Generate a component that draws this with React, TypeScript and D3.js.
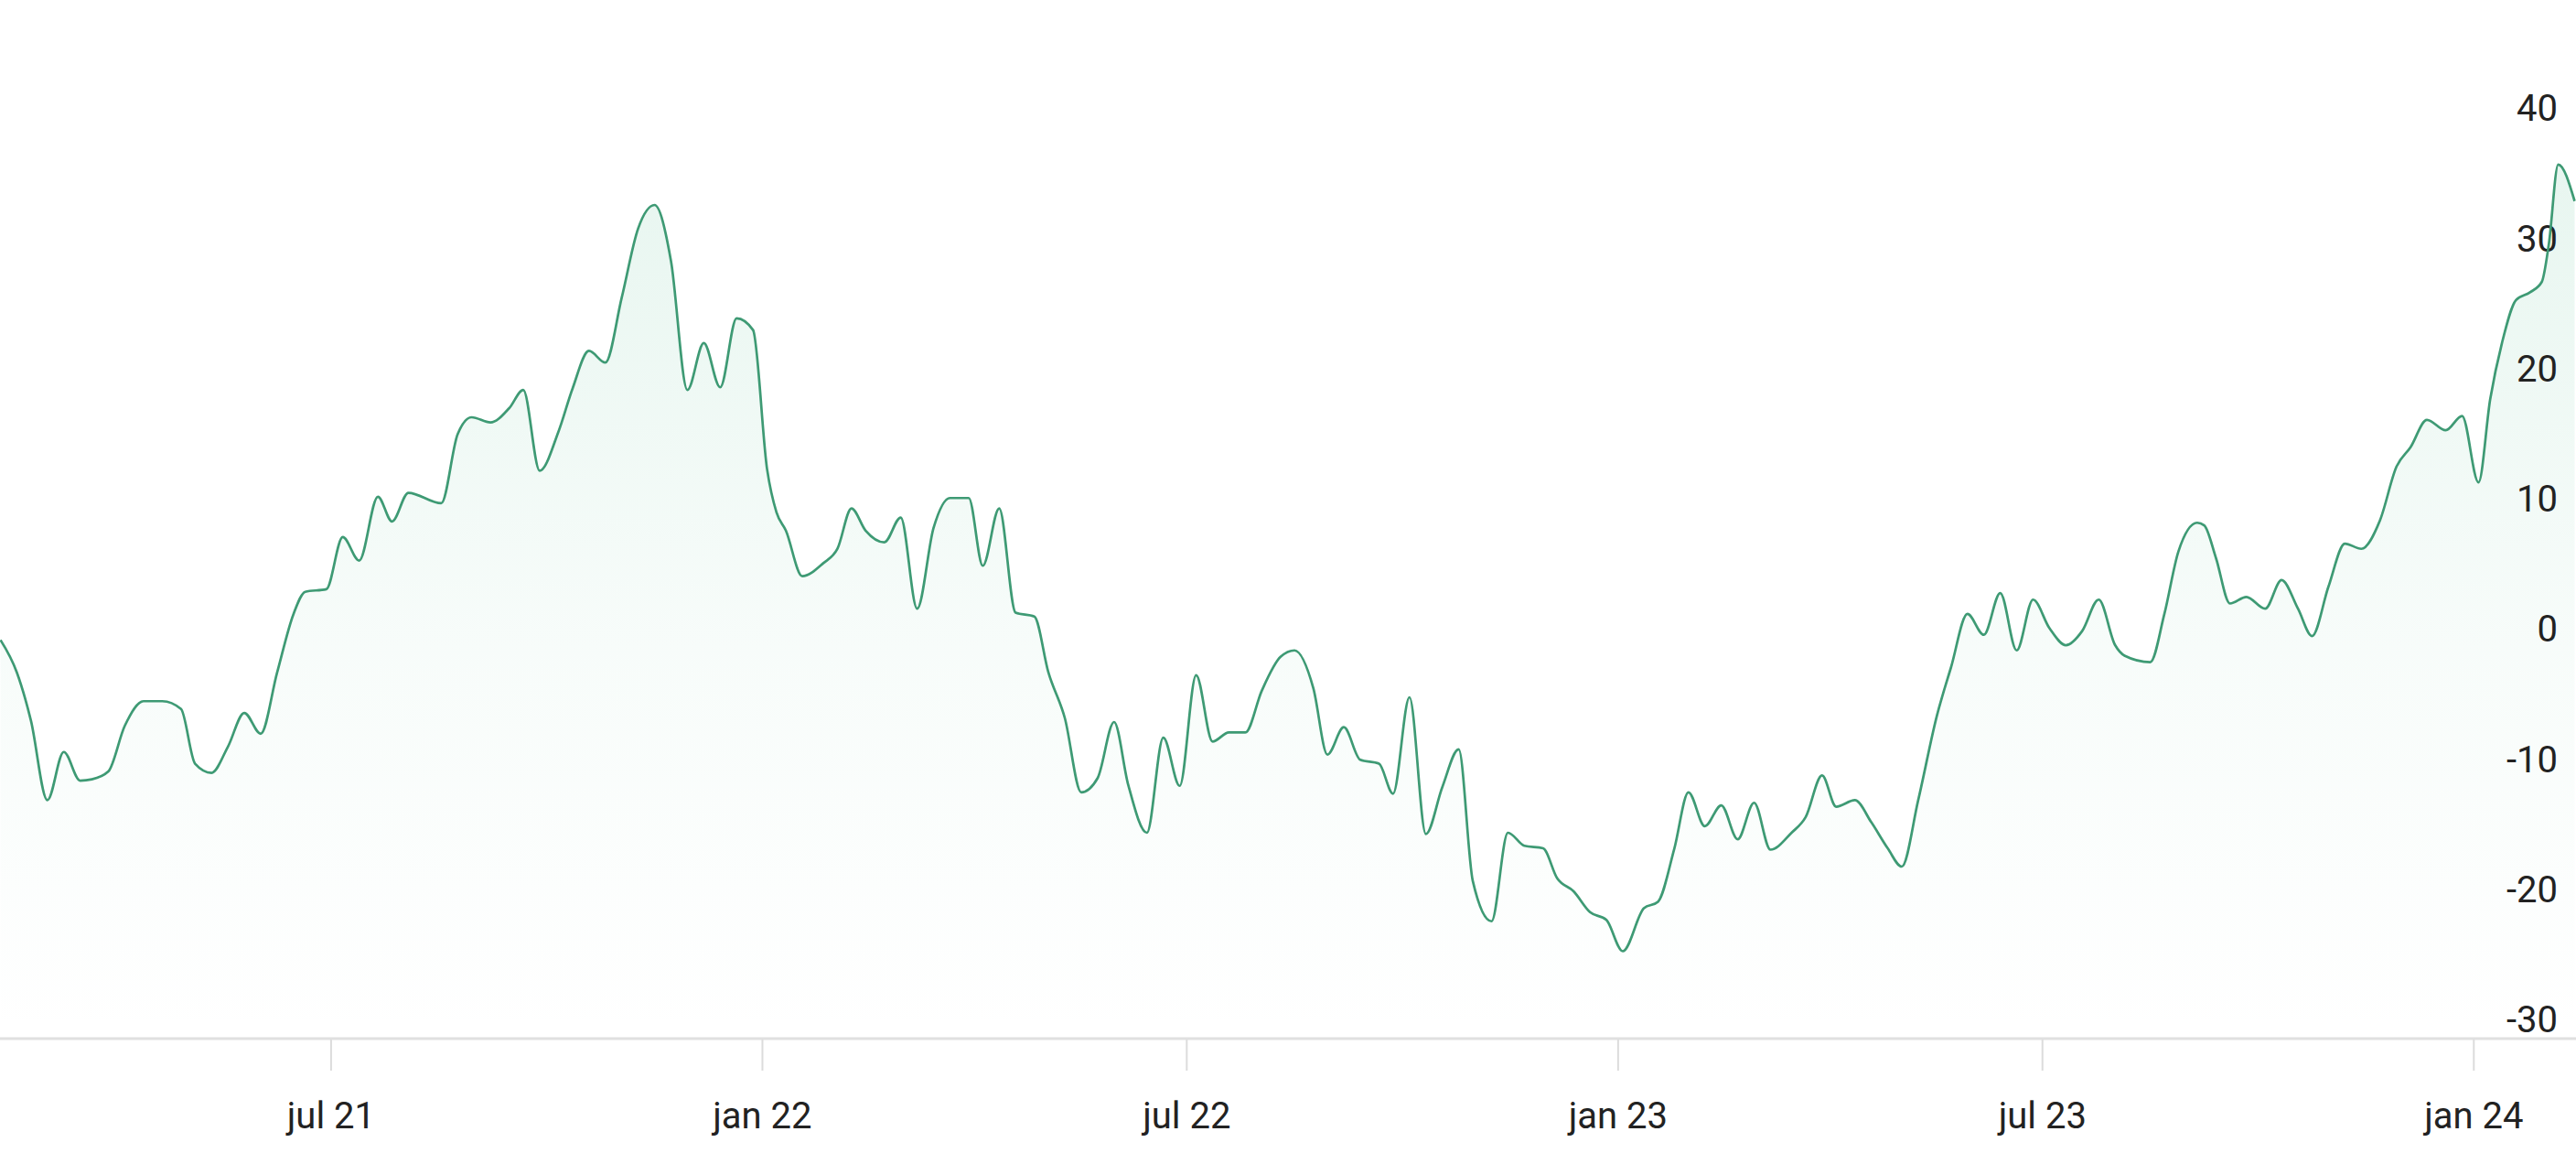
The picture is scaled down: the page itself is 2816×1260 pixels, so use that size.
import React from "react";
import * as d3 from "d3";

const dates = ["2021-02-10","2021-02-17","2021-02-23","2021-03-02","2021-03-09","2021-03-16","2021-03-21","2021-03-28","2021-04-04","2021-04-12","2021-04-20","2021-04-28","2021-05-04","2021-05-11","2021-05-18","2021-05-25","2021-06-01","2021-06-08","2021-06-15","2021-06-20","2021-06-29","2021-07-06","2021-07-13","2021-07-21","2021-07-27","2021-08-03","2021-08-17","2021-08-24","2021-08-30","2021-09-07","2021-09-15","2021-09-21","2021-09-28","2021-10-06","2021-10-12","2021-10-19","2021-10-26","2021-11-02","2021-11-09","2021-11-16","2021-11-23","2021-11-30","2021-12-07","2021-12-14","2021-12-21","2021-12-28","2022-01-03","2022-01-07","2022-01-11","2022-01-18","2022-01-27","2022-02-02","2022-02-08","2022-02-14","2022-02-22","2022-03-01","2022-03-08","2022-03-15","2022-03-22","2022-03-30","2022-04-05","2022-04-12","2022-04-19","2022-04-27","2022-05-03","2022-05-10","2022-05-17","2022-05-24","2022-05-31","2022-06-06","2022-06-14","2022-06-21","2022-06-28","2022-07-05","2022-07-12","2022-07-19","2022-07-26","2022-08-02","2022-08-10","2022-08-16","2022-08-24","2022-08-30","2022-09-06","2022-09-13","2022-09-21","2022-09-27","2022-10-04","2022-10-11","2022-10-18","2022-10-25","2022-10-31","2022-11-08","2022-11-15","2022-11-22","2022-11-30","2022-12-06","2022-12-13","2022-12-20","2022-12-27","2023-01-03","2023-01-12","2023-01-18","2023-01-25","2023-01-31","2023-02-07","2023-02-14","2023-02-21","2023-02-28","2023-03-07","2023-03-16","2023-03-22","2023-03-29","2023-04-04","2023-04-12","2023-04-19","2023-04-26","2023-05-02","2023-05-09","2023-05-17","2023-05-23","2023-05-30","2023-06-06","2023-06-13","2023-06-20","2023-06-27","2023-07-04","2023-07-11","2023-07-18","2023-07-25","2023-08-01","2023-08-05","2023-08-16","2023-08-22","2023-08-28","2023-09-05","2023-09-08","2023-09-13","2023-09-19","2023-09-26","2023-10-04","2023-10-11","2023-10-18","2023-10-24","2023-10-31","2023-11-07","2023-11-14","2023-11-22","2023-11-29","2023-12-05","2023-12-12","2023-12-20","2023-12-27","2024-01-03","2024-01-08","2024-01-13","2024-01-19","2024-01-25","2024-01-30","2024-02-02","2024-02-06","2024-02-13"];

const values = [-0.8,-3.3,-7.0,-13.1,-9.4,-11.6,-11.5,-10.9,-7.4,-5.5,-5.5,-6.1,-10.3,-11.0,-9.0,-6.4,-8.0,-3.3,1.2,2.9,3.1,7.1,5.3,10.2,8.3,10.5,9.7,15.0,16.3,15.9,17.0,18.4,12.2,15.2,18.5,21.4,20.5,25.5,30.8,32.6,28.3,18.4,22.0,18.6,23.9,23.0,12.3,9.0,7.6,4.1,5.1,6.2,9.3,7.6,6.7,8.6,1.6,7.8,10.1,10.1,4.9,9.3,1.3,1.0,-3.3,-6.8,-12.5,-11.4,-7.1,-11.9,-15.6,-8.3,-12.0,-3.5,-8.6,-7.9,-7.9,-4.7,-2.1,-1.6,-4.5,-9.6,-7.5,-10.0,-10.3,-12.6,-5.2,-15.7,-12.1,-9.2,-19.3,-22.4,-15.6,-16.6,-16.8,-19.1,-20.1,-21.7,-22.3,-24.7,-21.4,-20.9,-16.8,-12.5,-15.1,-13.5,-16.1,-13.3,-16.9,-15.6,-14.4,-11.2,-13.6,-13.1,-14.8,-16.8,-18.2,-13.1,-6.6,-2.9,1.2,-0.4,2.8,-1.6,2.3,0.1,-1.2,-0.1,2.3,-1.2,-2.0,-2.5,1.2,6.0,8.2,8.0,5.5,2.0,2.5,1.6,3.8,1.6,-0.5,3.3,6.6,6.2,8.4,12.5,14.0,16.1,15.3,16.4,11.3,17.7,22.0,25.3,25.9,26.7,29.6,35.7,32.9];

const yTicks = [40, 30, 20, 10, 0, -10, -20, -30];
const xTickDates = ["2021-07-01", "2022-01-01", "2022-07-01", "2023-01-01", "2023-07-01", "2024-01-01"];
const xTickLabels = ["jul 21", "jan 22", "jul 22", "jan 23", "jul 23", "jan 24"];

const W = 2816;
const H = 1260;
const BASE = 1135;
const LINE = "#3e9a74";
const FILL = "#3cb380";
const FONT = "Roboto, 'Noto Sans', sans-serif";

const parse = d3.utcParse("%Y-%m-%d");

export default function App() {
  const data = dates.map((d, i) => ({ date: parse(d) as Date, v: values[i] }));
  const x = d3
    .scaleUtc()
    .domain([new Date(Date.UTC(2021, 1, 9, 19)), new Date(Date.UTC(2024, 1, 13, 14))])
    .range([0, W]);
  const y = d3.scaleLinear().domain([-31.41, 48.34]).range([BASE, 0]);

  const line = d3
    .line<{ date: Date; v: number }>()
    .x((d) => x(d.date))
    .y((d) => y(d.v))
    .curve(d3.curveMonotoneX);
  const area = d3
    .area<{ date: Date; v: number }>()
    .x((d) => x(d.date))
    .y0(BASE)
    .y1((d) => y(d.v))
    .curve(d3.curveMonotoneX);

  const topY = y(d3.max(values) as number);

  return (
    <svg
      width={W}
      height={H}
      style={{ position: "absolute", left: 0, top: 0, background: "#ffffff" }}
    >
      <defs>
        <linearGradient id="fillGrad" gradientUnits="userSpaceOnUse" x1="0" y1={topY} x2="0" y2={BASE}>
          <stop offset="0" stopColor={FILL} stopOpacity={0.12} />
          <stop offset="0.55" stopColor={FILL} stopOpacity={0.04} />
          <stop offset="1" stopColor={FILL} stopOpacity={0} />
        </linearGradient>
        <clipPath id="plotClip">
          <rect x={0} y={0} width={W} height={BASE} />
        </clipPath>
      </defs>
      <g clipPath="url(#plotClip)">
        <path d={area(data) || ""} fill="url(#fillGrad)" />
      </g>
      <g>
        {yTicks.map((t) => (
          <text
            key={t}
            x={2796}
            y={y(t)}
            textAnchor="end"
            dominantBaseline="central"
            fontFamily={FONT}
            fontSize={40}
            fill="#222222"
          >
            {t}
          </text>
        ))}
      </g>
      <g clipPath="url(#plotClip)">
        <path d={line(data) || ""} fill="none" stroke={LINE} strokeWidth={2.7} strokeLinejoin="round" />
      </g>
      <line x1={0} x2={W} y1={BASE} y2={BASE} stroke="#e0e0e0" strokeWidth={3} />
      {xTickDates.map((d, i) => {
        const px = x(parse(d) as Date);
        return (
          <g key={d}>
            <line x1={px} x2={px} y1={BASE + 1} y2={1170} stroke="#dcdcdc" strokeWidth={2} />
            <text
              x={px}
              y={1233}
              textAnchor="middle"
              fontFamily={FONT}
              fontSize={40}
              fill="#222222"
            >
              {xTickLabels[i]}
            </text>
          </g>
        );
      })}
    </svg>
  );
}
